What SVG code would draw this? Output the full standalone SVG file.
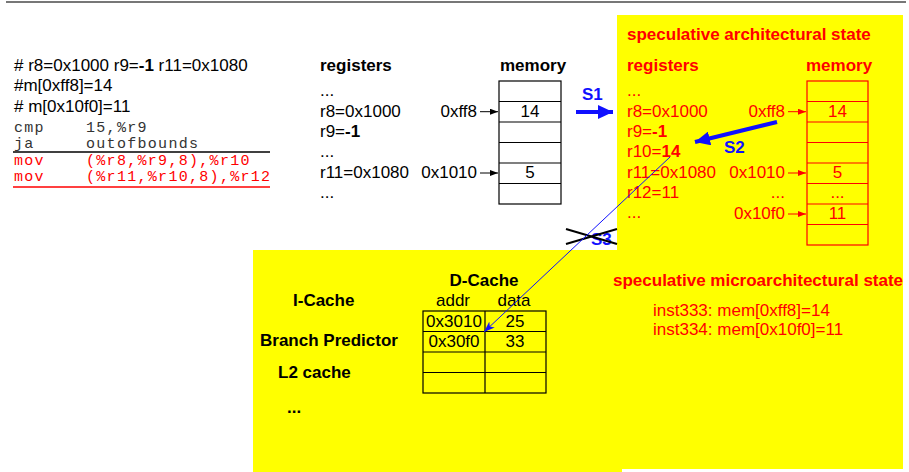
<svg xmlns="http://www.w3.org/2000/svg" width="909" height="472" viewBox="0 0 909 472">
  <style>
    text { font-family: "Liberation Sans", Arial, Helvetica, sans-serif; font-size: 17px; fill: #000; }
    .b { font-weight: bold; }
    .red { fill: #ff0000; }
    .blue { fill: #1010ff; font-weight: bold; }
    .mono { font-family: "Liberation Mono", "Courier New", monospace; font-size: 15px; letter-spacing: 1.3px; fill: #333; }
    .mono.red { fill: #ff0000; }
    .mid { text-anchor: middle; }
    .end { text-anchor: end; }
    .cell { fill: none; stroke: #000; stroke-width: 1.2; }
    .cellr { fill: none; stroke: #ff0000; stroke-width: 1.2; }
    .yellow { fill: #ffff00; }
  </style>
  <defs>
    <marker id="headBlack" markerUnits="userSpaceOnUse" markerWidth="8" markerHeight="6" refX="8" refY="3" orient="auto">
      <path d="M0,0 L8,3 L0,6 z" fill="#000"/>
    </marker>
    <marker id="headRed" markerUnits="userSpaceOnUse" markerWidth="8" markerHeight="6" refX="8" refY="3" orient="auto">
      <path d="M0,0 L8,3 L0,6 z" fill="#ff0000"/>
    </marker>
    <marker id="headBlueBig" markerUnits="userSpaceOnUse" markerWidth="15" markerHeight="14" refX="15" refY="7" orient="auto">
      <path d="M0,0 L15,7 L0,14 z" fill="#1010ff"/>
    </marker>
    <marker id="headBlueThin" markerUnits="userSpaceOnUse" markerWidth="11" markerHeight="8" refX="11" refY="4" orient="auto">
      <path d="M0,0 L11,4 L0,8 L3,4 z" fill="#1010ff"/>
    </marker>
  </defs>

  <!-- page rule -->
  <line x1="6" y1="2" x2="906" y2="2" stroke="#777" stroke-width="2"/>

  <!-- shaded regions -->
  <rect class="yellow" x="617" y="15" width="286" height="454"/>
  <rect class="yellow" x="253" y="250" width="369" height="222"/>

  <!-- program listing -->
  <g id="program">
    <text x="14" y="71"># r8=0x1000 r9=<tspan class="b">-1</tspan> r11=0x1080</text>
    <text x="14" y="91">#m[0xff8]=14</text>
    <text x="14" y="112"># m[0x10f0]=11</text>
    <text class="mono" x="14" y="132">cmp</text>
    <text class="mono" x="86" y="132">15,%r9</text>
    <text class="mono" x="14" y="148">ja</text>
    <text class="mono" x="86" y="148">outofbounds</text>
    <line x1="13" y1="152" x2="270" y2="152" stroke="#000" stroke-width="1.3"/>
    <text class="mono red" x="14" y="165">mov</text>
    <text class="mono red" x="86" y="165">(%r8,%r9,8),%r10</text>
    <text class="mono red" x="14" y="181">mov</text>
    <text class="mono red" x="86" y="181">(%r11,%r10,8),%r12</text>
    <line x1="13" y1="187" x2="270" y2="187" stroke="#ff0000" stroke-width="1.3"/>
  </g>

  <!-- committed architectural state -->
  <g id="arch-registers">
    <text class="b" x="320" y="71">registers</text>
    <text x="320" y="96">...</text>
    <text x="320" y="117">r8=0x1000</text>
    <text x="320" y="137">r9=<tspan class="b">-1</tspan></text>
    <text x="320" y="157">...</text>
    <text x="320" y="178">r11=0x1080</text>
    <text x="320" y="198">...</text>
  </g>
  <g id="arch-memory">
    <text class="b" x="500" y="71">memory</text>
    <rect class="cell" x="499" y="81" width="62" height="123"/>
    <path class="cell" d="M499,101.5 H561 M499,122 H561 M499,142.5 H561 M499,163 H561 M499,183.5 H561"/>
    <text class="mid" x="530" y="117">14</text>
    <text class="mid" x="530" y="178">5</text>
    <text class="end" x="477" y="117">0xff8</text>
    <text class="end" x="477" y="178">0x1010</text>
  </g>

  <!-- speculative architectural state -->
  <g id="spec-arch">
    <text class="b red" x="627" y="40">speculative architectural state</text>
    <text class="b red" x="627" y="71">registers</text>
    <text class="red" x="627" y="96">...</text>
    <text class="red" x="627" y="117">r8=0x1000</text>
    <text class="red" x="627" y="137">r9=<tspan class="b">-1</tspan></text>
    <text class="red" x="627" y="157">r10=<tspan class="b">14</tspan></text>
    <text class="red" x="627" y="178">r11=0x1080</text>
    <text class="red" x="627" y="198">r12=11</text>
    <text class="red" x="627" y="218">...</text>
  </g>
  <g id="spec-memory">
    <text class="b red" x="806" y="71">memory</text>
    <rect class="cellr" x="807" y="81" width="61" height="164"/>
    <path class="cellr" d="M807,101.5 H868 M807,122 H868 M807,142.5 H868 M807,163 H868 M807,183.5 H868 M807,204 H868 M807,224.5 H868"/>
    <text class="red mid" x="837.5" y="117">14</text>
    <text class="red mid" x="837.5" y="178">5</text>
    <text class="red mid" x="837.5" y="198">...</text>
    <text class="red mid" x="837.5" y="219">11</text>
    <text class="red end" x="785" y="117">0xff8</text>
    <text class="red end" x="785" y="178">0x1010</text>
    <text class="red end" x="785" y="198">...</text>
    <text class="red end" x="785" y="219">0x10f0</text>
  </g>

  <!-- microarchitectural state -->
  <g id="micro-units">
    <text class="b" x="293" y="306">I-Cache</text>
    <text class="b" x="260" y="346">Branch Predictor</text>
    <text class="b" x="278" y="378">L2 cache</text>
    <text class="b" x="287" y="413">...</text>
  </g>
  <g id="dcache">
    <text class="b mid" x="484" y="286">D-Cache</text>
    <text class="mid" x="453" y="306">addr</text>
    <text class="mid" x="514" y="306">data</text>
    <rect class="cell" x="423" y="311" width="123" height="82"/>
    <path class="cell" d="M485,311 V393 M423,331.5 H546 M423,352 H546 M423,372.5 H546"/>
    <text class="mid" x="454" y="327">0x3010</text>
    <text class="mid" x="515" y="327">25</text>
    <text class="mid" x="454" y="347">0x30f0</text>
    <text class="mid" x="515" y="347">33</text>
  </g>
  <g id="spec-micro">
    <text class="b red" x="613" y="286">speculative microarchitectural state</text>
    <text class="red" x="653" y="316">inst333: mem[0xff8]=14</text>
    <text class="red" x="653" y="335">inst334: mem[0x10f0]=11</text>
  </g>

  <!-- connectors -->
  <g id="connectors">
    <line x1="480" y1="111.7" x2="498" y2="111.7" stroke="#000" stroke-width="1" marker-end="url(#headBlack)"/>
    <line x1="480" y1="173" x2="498" y2="173" stroke="#000" stroke-width="1" marker-end="url(#headBlack)"/>
    <line x1="788" y1="111.7" x2="806" y2="111.7" stroke="#ff0000" stroke-width="1" marker-end="url(#headRed)"/>
    <line x1="788" y1="173" x2="806" y2="173" stroke="#ff0000" stroke-width="1" marker-end="url(#headRed)"/>
    <line x1="788" y1="214" x2="806" y2="214" stroke="#ff0000" stroke-width="1" marker-end="url(#headRed)"/>

    <!-- S1 -->
    <text class="blue" x="582" y="100">S1</text>
    <line x1="576" y1="112" x2="613" y2="112" stroke="#1010ff" stroke-width="4" marker-end="url(#headBlueBig)"/>

    <!-- S2 -->
    <text class="blue" x="724" y="153">S2</text>
    <line x1="777" y1="122" x2="695" y2="142" stroke="#1010ff" stroke-width="4" marker-end="url(#headBlueBig)"/>

    <!-- S3 (cancelled) -->
    <text class="blue" x="591" y="245">S3</text>
    <line x1="566" y1="229" x2="617" y2="244" stroke="#000" stroke-width="2"/>
    <line x1="566" y1="244" x2="617" y2="229" stroke="#000" stroke-width="2"/>
    <line x1="670" y1="157" x2="484" y2="332" stroke="#1010ff" stroke-width="1" marker-end="url(#headBlueThin)"/>
  </g>
</svg>
